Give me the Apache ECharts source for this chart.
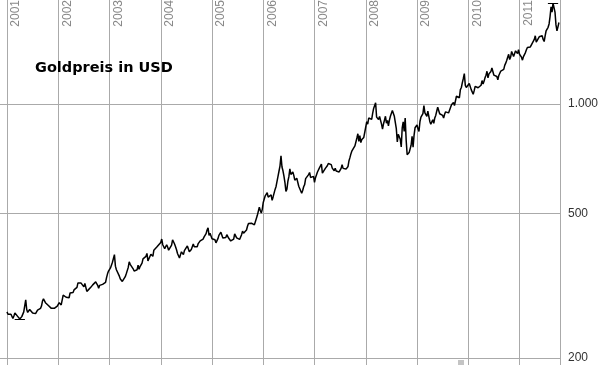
<!DOCTYPE html>
<html>
<head>
<meta charset="utf-8">
<script src="https://cdn.jsdelivr.net/npm/echarts@6/dist/echarts.min.js"></script>
<style>
html,body{margin:0;padding:0;background:#fff;}
#chart{width:602px;height:365px;}
</style>
</head>
<body>
<div id="chart"></div>
<script>
// Weekly gold price (USD/oz), 52 samples per year
const gold2001 = [268,264,264,265, 264,262,257,261, 266,265,263,260,258, 256,257,260,263, 268,270,289,272, 267,270,272,271,270, 266,267,268,265, 267,271,274,273,274, 278,287,291,293, 284,281,281,279, 278,280,274,273,275, 274,275,277,278];
const gold2002 = [279,284,282,280, 283,298,298,296, 294,292,292,293,302, 301,302,303,308, 310,310,313,322,326, 326,322,323,318, 314,321,318,305, 305,309,311,313,312, 318,320,322,324, 322,317,311,317,318, 321,319,318,318, 323,333,341,347];
const gold2003 = [349,354,356,367,368, 385,358,350,350, 352,336,330,334, 325,328,328,335, 341,348,355,368,362, 365,358,352,347, 348,346,350,360, 351,357,361,365,375, 378,378,381,388, 370,372,370,386,384, 381,396,397,398, 404,409,410,414];
const gold2004 = [416,425,410,411,400, 405,410,404,396, 400,394,409,423, 424,412,405,397,388, 385,377,385,392, 394,385,395,395, 397,407,407,392,391, 398,400,412,405, 405,400,405,413, 418,420,419,423,425, 431,436,440,450, 456,435,441,442];
const gold2005 = [426,423,427,423, 415,414,426,435, 432,444,442,428, 428,425,429,437,436, 427,422,420,418, 421,425,439,437, 428,423,423,424,429, 437,447,441,440, 446,450,461,469,473, 470,470,470,474, 465,467,484,494, 500,520,509,501,513];
const gold2006 = [536,548,559,563, 570,554,551,556, 562,543,555,560,582, 593,597,633,654, 676,720,671,655, 633,608,575,583,613, 631,663,640,636, 650,636,617,623, 625,620,594,594,600, 568,578,592,600, 623,629,623,639, 648,628,625,621,632];
const gold2007 = [609,627,630,650, 654,667,669,683, 645,652,652,665,663, 676,686,692,680, 681,666,664,655, 666,654,654,653,650, 658,665,681,665, 672,671,662,668,673, 698,713,730,743, 734,749,767,786, 806,828,789,818,783, 798,797,809,836];
const gold2008 = [865,894,880,915, 925,916,907,942,972, 980,1008,920,930, 906,924,919,880, 853,881,878,925,885, 901,870,903,925, 932,960,953,925, 917,855,786,825,833, 800,762,860,893, 840,915,795,725,730, 735,740,770,815, 760,820,860,850];
const gold2009 = [875,855,840,895,920, 912,941,990,945, 940,925,955,925, 895,880,870,905, 885,915,930,955,980, 960,940,935,940, 930,915,937,951,955, 958,945,940,950, 995,1005,1010,990, 1000,1050,1050,1060,1040, 1095,1110,1145,1175, 1212,1125,1110,1105];
const gold2010 = [1100,1138,1136,1095,1083, 1063,1088,1118,1108, 1132,1108,1120,1096, 1126,1160,1135,1155,1180, 1200,1230,1180,1210, 1210,1229,1256,1250, 1200,1205,1205,1190,1165, 1198,1213,1232,1233, 1245,1245,1277,1295, 1317,1345,1370,1325,1346, 1395,1390,1350,1365, 1400,1390,1375,1410];
const gold2011 = [1370,1362,1345,1320, 1350,1360,1385,1410, 1430,1420,1420,1435, 1430,1470,1480,1505,1540, 1480,1495,1495,1530, 1540,1530,1540,1505, 1485,1540,1590,1600,1625, 1660,1740,1850,1790, 1895,1840,1790,1650,1590, 1630,1675];

const seriesYears = [2001,2002,2003,2004,2005,2006,2007,2008,2009,2010,2011];
const seriesValues = [gold2001,gold2002,gold2003,gold2004,gold2005,gold2006,gold2007,gold2008,gold2009,gold2010,gold2011];
const yearTicks = [2001,2002,2003,2004,2005,2006,2007,2008,2009,2010,2011];
const priceTicks = [200,500,1000];
const titleText = 'Goldpreis in USD';

const data = [];
seriesYears.forEach((y, k) => {
  seriesValues[k].forEach((v, i) => data.push([y + i / 52, v]));
});
let minP = data[0], maxP = data[0];
data.forEach(p => { if (p[1] < minP[1]) minP = p; if (p[1] > maxP[1]) maxP = p; });

const fmt = v => String(Math.round(v)).replace(/\B(?=(\d{3})+(?!\d))/g, '.');

const chart = echarts.init(document.getElementById('chart'), null, {renderer: 'canvas'});
chart.setOption({
  animation: false,
  backgroundColor: '#fff',
  title: {
    text: titleText, left: 35, top: 61, padding: 0,
    textStyle: {fontFamily: 'DejaVu Sans', fontSize: 14.5, fontWeight: 'bold', color: '#000'}
  },
  grid: {left: 0, right: 42, top: 0, bottom: 0, containLabel: false, outerBoundsMode: 'none'},
  xAxis: {
    type: 'value', position: 'top', min: 2000.8635, max: 2011.79,
    axisLine: {show: false},
    axisTick: {show: false, customValues: yearTicks},
    axisLabel: {
      customValues: yearTicks, inside: true, rotate: -90, margin: 0,
      align: 'right', verticalAlign: 'top', padding: [3, 0, 0, 0],
      formatter: v => String(Math.round(v)),
      color: '#888', fontSize: 12, fontFamily: 'Liberation Sans'
    },
    splitLine: {show: true, lineStyle: {color: '#aaa', width: 1}}
  },
  yAxis: {
    type: 'log', logBase: 10, position: 'right', min: 191.4, max: 1932,
    axisLine: {show: true, lineStyle: {color: '#aaa', width: 1}},
    axisTick: {show: false, customValues: priceTicks},
    axisLabel: {
      customValues: priceTicks, margin: 8, formatter: fmt,
      color: '#333', fontSize: 12, fontFamily: 'Liberation Sans'
    },
    splitLine: {show: true, lineStyle: {color: '#aaa', width: 1}}
  },
  graphic: [{type: 'rect', left: 458, top: 360, shape: {width: 6, height: 5}, style: {fill: '#c4c4c4'}, silent: true}],
  series: [{
    type: 'line', data: data, showSymbol: false, symbol: 'none',
    lineStyle: {color: '#000', width: 1.5},
    markLine: {
      silent: true, symbol: 'none', label: {show: false},
      lineStyle: {color: '#000', width: 1, type: 'solid'},
      data: [
        [{coord: [minP[0] - 0.1, minP[1]]}, {coord: [minP[0] + 0.1, minP[1]]}],
        [{coord: [maxP[0] - 0.1, maxP[1]]}, {coord: [maxP[0] + 0.1, maxP[1]]}]
      ]
    }
  }]
});
</script>
</body>
</html>
